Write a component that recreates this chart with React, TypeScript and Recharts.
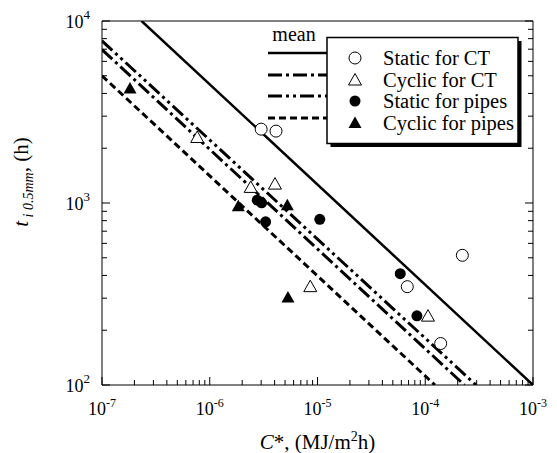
import React from "react";
import { ComposedChart, Scatter, XAxis, YAxis, Legend } from "recharts";

const FONT = "Liberation Serif, Times New Roman, DejaVu Serif, serif";

// C* (MJ/m2h) vs t_i 0.5mm (h)
const staticCTX = [3.0e-6, 4.12e-6, 6.81e-5, 1.39e-4, 2.21e-4];
const staticCTY = [2545, 2483, 347, 169, 516];
const cyclicCTX = [7.65e-7, 2.4e-6, 4.03e-6, 8.57e-6, 1.06e-4];
const cyclicCTY = [2291, 1218, 1270, 347, 239];
const staticPipesX = [2.76e-6, 3.03e-6, 3.3e-6, 1.05e-5, 5.86e-5, 8.37e-5];
const staticPipesY = [1037, 1002, 788, 813, 409, 240];
const cyclicPipesX = [1.82e-7, 1.84e-6, 5.25e-6, 5.32e-6];
const cyclicPipesY = [4256, 961, 973, 303];

// mean lines (two end points each)
const meanStaticCTX = [2.33e-7, 1e-3];
const meanStaticCTY = [10000, 100];
const meanCyclicCTX = [1e-7, 2.31e-4];
const meanCyclicCTY = [6960, 100];
const meanStaticPipesX = [1e-7, 2.96e-4];
const meanStaticPipesY = [7780, 100];
const meanCyclicPipesX = [1e-7, 1.23e-4];
const meanCyclicPipesY = [5000, 100];

const xTicks = [-7, -6, -5, -4]
  .flatMap((e) => [1, 2, 3, 4, 5, 6, 7, 8, 9].map((m) => m * Math.pow(10, e)))
  .concat([1e-3]);
const yTicks = [2, 3]
  .flatMap((e) => [1, 2, 3, 4, 5, 6, 7, 8, 9].map((m) => m * Math.pow(10, e)))
  .concat([1e4]);

const zip = (xs: number[], ys: number[]) => xs.map((x, i) => ({ x, y: ys[i] }));

const decade = (v: number) => {
  const l = Math.log10(v);
  return Math.abs(l - Math.round(l)) < 1e-6 ? Math.round(l) : null;
};

const txt = { fontFamily: FONT };

function XTick({ x, y, payload }: any) {
  const e = decade(payload.value);
  return (
    <g>
      <line x1={x} x2={x} y1={y} y2={y - (e !== null ? 8 : 5)} stroke="#000" />
      {e !== null && (
        <text x={x} y={y + 30} textAnchor="middle" fontSize={18} style={txt} fill="#000">
          <tspan>10</tspan>
          <tspan dy={-8} fontSize={12}>{e}</tspan>
        </text>
      )}
    </g>
  );
}

function XTopTick({ x, y, payload }: any) {
  const e = decade(payload.value);
  return <line x1={x} x2={x} y1={y} y2={y + (e !== null ? 8 : 5)} stroke="#000" />;
}

function YTick({ x, y, payload }: any) {
  const e = decade(payload.value);
  return (
    <g>
      <line x1={x} x2={x + (e !== null ? 8 : 5)} y1={y} y2={y} stroke="#000" />
      {e !== null && (
        <text x={x - 12} y={y + 7} textAnchor="end" fontSize={18} style={txt} fill="#000">
          <tspan>10</tspan>
          <tspan dy={-9} fontSize={13}>{e}</tspan>
        </text>
      )}
    </g>
  );
}

function YRightTick({ x, y, payload }: any) {
  const e = decade(payload.value);
  return <line x1={x} x2={x - (e !== null ? 8 : 5)} y1={y} y2={y} stroke="#000" />;
}

function XTitle({ viewBox }: any) {
  const { x, y, width } = viewBox;
  return (
    <text x={x + width / 2} y={y + 64} textAnchor="middle" fontSize={21} style={txt} fill="#000">
      <tspan fontStyle="italic">C</tspan>
      <tspan>*, (MJ/m</tspan>
      <tspan dy={-8} fontSize={14}>2</tspan>
      <tspan dy={8}>h)</tspan>
    </text>
  );
}

function YTitle() {
  return (
    <text transform="translate(28,182) rotate(-90)" textAnchor="middle" fontSize={21} style={txt} fill="#000">
      <tspan fontStyle="italic">t</tspan>
      <tspan fontStyle="italic" fontSize={14} dy={5}> i 0.5mm</tspan>
      <tspan dy={-5}>, (h)</tspan>
    </text>
  );
}

const Marker = ({ kind, cx, cy }: { kind: string; cx: number; cy: number }) => {
  if (kind === "oc") return <circle cx={cx} cy={cy} r={6} fill="#fff" stroke="#000" strokeWidth={1} />;
  if (kind === "fc") return <circle cx={cx} cy={cy} r={5.5} fill="#000" />;
  const pts = `${cx - 6.5},${cy + 5} ${cx + 6.5},${cy + 5} ${cx},${cy - 6.5}`;
  if (kind === "ot") return <polygon points={pts} fill="#fff" stroke="#000" strokeWidth={1} />;
  return <polygon points={pts} fill="#000" />;
};

const series = [
  { name: "Static for CT", kind: "oc", data: zip(staticCTX, staticCTY) },
  { name: "Cyclic for CT", kind: "ot", data: zip(cyclicCTX, cyclicCTY) },
  { name: "Static for pipes", kind: "fc", data: zip(staticPipesX, staticPipesY) },
  { name: "Cyclic for pipes", kind: "ft", data: zip(cyclicPipesX, cyclicPipesY) },
];

const means = [
  { data: zip(meanStaticCTX, meanStaticCTY), dash: undefined, w: 2.5 },
  { data: zip(meanCyclicCTX, meanCyclicCTY), dash: "14 4 3 4", w: 3 },
  { data: zip(meanStaticPipesX, meanStaticPipesY), dash: "14 4 3 4 3 4", w: 3 },
  { data: zip(meanCyclicPipesX, meanCyclicPipesY), dash: "7 4", w: 3 },
];

function LegendBox() {
  const rows = [43, 65, 86, 108];
  return (
    <svg width={290} height={140} style={{ display: "block" }}>
      <text x={32} y={26} textAnchor="middle" fontSize={20} style={txt}>mean</text>
      {means.map((m, i) => (
        <line key={i} x1={6} x2={68} y1={rows[i] - 5} y2={rows[i] - 5} stroke="#000" strokeWidth={m.w} strokeDasharray={m.dash} />
      ))}
      <rect x={68.5} y={26} width={191} height={106} fill="#000" />
      <rect x={65} y={22.5} width={191} height={106} fill="#fff" stroke="#000" strokeWidth={1.5} />
      {series.map((s, i) => (
        <g key={s.name}>
          <Marker kind={s.kind} cx={93} cy={rows[i]} />
          <text x={121} y={rows[i] + 7} fontSize={20.5} style={txt}>{s.name}</text>
        </g>
      ))}
    </svg>
  );
}

export default function App() {
  return (
    <div style={{ width: 557, height: 453, background: "#fff" }}>
      <style>{`body{margin:0}`}</style>
      <ComposedChart width={557} height={453} margin={{ top: 0, right: 0, bottom: 0, left: 0 }}>
        <XAxis
          xAxisId="b"
          dataKey="x"
          type="number"
          scale="log"
          domain={[1e-7, 1e-3]}
          allowDataOverflow
          ticks={xTicks}
          interval={0}
          tickSize={0}
          tickMargin={0}
          tickLine={false}
          tick={(p: any) => <XTick {...p} />}
          axisLine={{ stroke: "#000" }}
          height={68}
          label={<XTitle />}
        />
        <XAxis
          xAxisId="t"
          orientation="top"
          type="number"
          scale="log"
          domain={[1e-7, 1e-3]}
          allowDataOverflow
          ticks={xTicks}
          interval={0}
          tickSize={0}
          tickMargin={0}
          tickLine={false}
          tick={(p: any) => <XTopTick {...p} />}
          axisLine={{ stroke: "#000" }}
          height={21}
        />
        <YAxis
          yAxisId="l"
          dataKey="y"
          type="number"
          scale="log"
          domain={[100, 10000]}
          allowDataOverflow
          ticks={yTicks}
          interval={0}
          tickSize={0}
          tickMargin={0}
          tickLine={false}
          tick={(p: any) => <YTick {...p} />}
          axisLine={{ stroke: "#000" }}
          width={102}
          label={<YTitle />}
        />
        <YAxis
          yAxisId="r"
          orientation="right"
          type="number"
          scale="log"
          domain={[100, 10000]}
          allowDataOverflow
          ticks={yTicks}
          interval={0}
          tickSize={0}
          tickMargin={0}
          tickLine={false}
          tick={(p: any) => <YRightTick {...p} />}
          axisLine={{ stroke: "#000" }}
          width={24}
        />
        {means.map((m, i) => (
          <Scatter
            key={"m" + i}
            xAxisId="b"
            yAxisId="l"
            data={m.data}
            line={{ stroke: "#000", strokeWidth: m.w, strokeDasharray: m.dash }}
            shape={() => <g />}
            isAnimationActive={false}
          />
        ))}
        {series.map((s) => (
          <Scatter
            key={s.name}
            name={s.name}
            xAxisId="b"
            yAxisId="l"
            data={s.data}
            shape={(p: any) => <Marker kind={s.kind} cx={p.cx} cy={p.cy} />}
            isAnimationActive={false}
          />
        ))}
        <Legend
          layout="horizontal"
          verticalAlign="middle"
          align="center"
          content={() => <LegendBox />}
          wrapperStyle={{ left: 262, top: 15, width: 290, height: 140 }}
        />
      </ComposedChart>
    </div>
  );
}
